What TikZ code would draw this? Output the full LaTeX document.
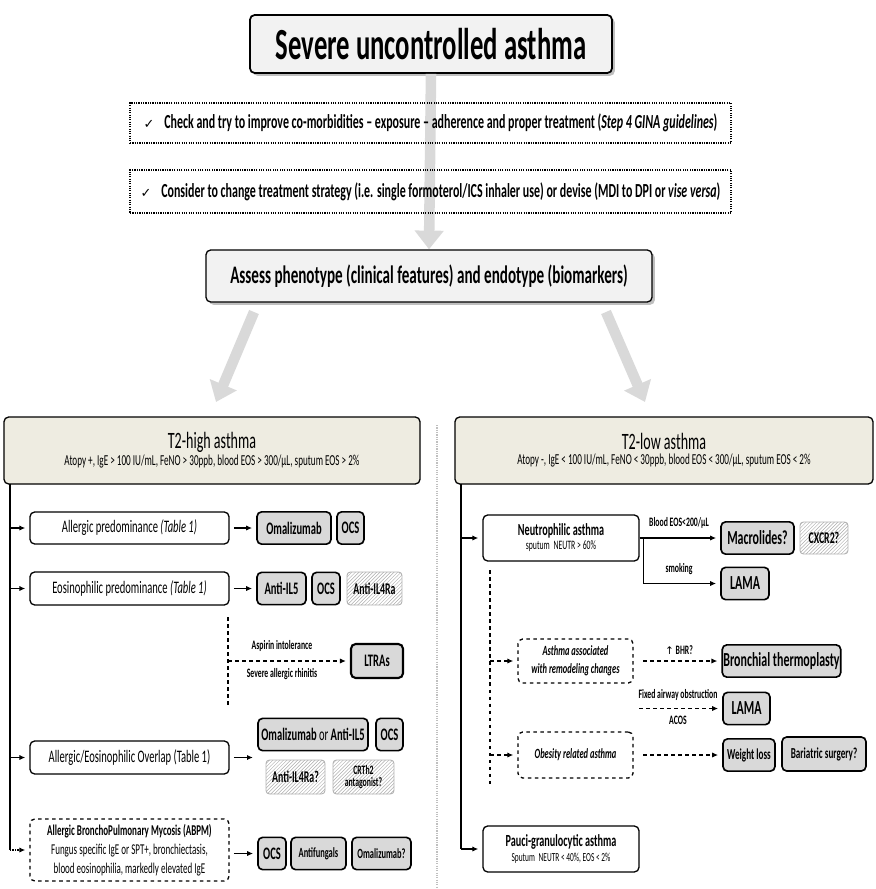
\documentclass[tikz,border=0pt]{standalone}
\usepackage{fontspec}
\setmainfont{Carlito}[FakeStretch=0.6]
\newfontfamily\symfont{DejaVu Sans}
\usetikzlibrary{arrows.meta, patterns, shadows}
\definecolor{beige}{HTML}{EEECE1}
\definecolor{drugfill}{HTML}{D9D9D9}
\definecolor{titlefill}{HTML}{F2F2F2}

\begin{document}
\begin{tikzpicture}[x=0.03cm, y=-0.03cm,
  box/.style={draw, line width=1.1pt, rounded corners=4pt, fill=white, align=center, inner sep=1pt},
  pheno/.style={box, minimum width=5.97cm, font=\fontsize{15}{17}\selectfont},
  drug/.style={box, fill=drugfill, line width=1.4pt, minimum height=0.97cm, font=\bfseries\fontsize{15}{16}\selectfont},
  hatch/.style={draw=gray!60, line width=0.8pt, rounded corners=3pt, pattern=north east lines,
    pattern color=gray!65, align=center, inner sep=1pt, font=\bfseries\fontsize{14}{14}\selectfont},
  dbox/.style={box, dashed},
  chk/.style={draw, densely dotted, line width=1pt, minimum width=18.03cm, font=\bfseries\fontsize{17}{19}\selectfont},
  lbl/.style={inner sep=1pt, font=\bfseries\fontsize{11}{12}\selectfont},
  arr/.style={-{Latex[length=5pt,width=4.5pt]}, line width=1.1pt, shorten <=3.5pt, shorten >=3.5pt},
  darr/.style={arr, dashed},
  big/.style={line width=9pt, gray!30, -{Triangle[length=16pt,width=24pt]}},
]
  \useasboundingbox (0,0) rectangle (876,889);

  \node[box, fill=titlefill, line width=1.5pt, minimum width=10.86cm, minimum height=1.74cm, drop shadow,
    font=\bfseries\fontsize{38}{40}\selectfont] (title) at (431,44) {Severe uncontrolled asthma};
  \node[box, fill=titlefill, minimum width=13.38cm, minimum height=1.56cm, drop shadow,
    font=\bfseries\fontsize{21.5}{24}\selectfont] (assess) at (429,276)
    {Assess phenotype (clinical features) and endotype (biomarkers)};

  \draw[big] (title.south) -- (assess.north);
  \coordinate (la1) at (254,312);
  \coordinate (la2) at (216,402);
  \coordinate (ra1) at (606,312);
  \coordinate (ra2) at (645,402);
  \draw[big] (la1) -- (la2);
  \draw[big] (ra1) -- (ra2);

  \node[chk, minimum height=1.2cm] (chk1) at (430.5,123)
    {{\symfont\mdseries\fontsize{11}{12}\selectfont ✓}\enspace Check and try to improve co-morbidities -- exposure -- adherence and proper treatment (\textit{Step 4 GINA guidelines})};
  \node[chk, minimum height=1.29cm] (chk2) at (430.5,191.5)
    {{\symfont\mdseries\fontsize{11}{12}\selectfont ✓}\enspace Consider to change treatment strategy (i.e. single formoterol/ICS inhaler use) or devise (MDI to DPI or \textit{vise versa})};

  \node[box, fill=beige, minimum width=12.48cm, minimum height=2.01cm] (high) at (212,450.5)
    {{\fontsize{20}{22}\selectfont T2-high asthma}\\[1pt]
     {\fontsize{13}{14}\selectfont Atopy +, IgE > 100 IU/mL, FeNO > 30ppb, blood EOS > 300/µL, sputum EOS > 2\%}};
  \node[box, fill=beige, minimum width=12.54cm, minimum height=2.01cm] (low) at (664,450.5)
    {{\fontsize{20}{22}\selectfont T2-low asthma}\\[1pt]
     {\fontsize{13}{14}\selectfont Atopy -, IgE < 100 IU/mL, FeNO < 30ppb, blood EOS < 300/µL, sputum EOS < 2\%}};

  \draw[gray!50, densely dotted, line width=1pt] (437,425) -- (437,889);

  % T2-high
  \node[pheno, minimum height=0.96cm] (allp) at (129.5,528) {Allergic predominance \textit{(Table 1)}};
  \node[drug, minimum width=2.22cm] (oma1) at (294,528) {Omalizumab};
  \node[drug, minimum width=0.81cm] (ocs1) at (350.5,528) {OCS};

  \node[pheno, minimum height=0.99cm] (eosp) at (129.5,588.5) {Eosinophilic predominance \textit{(Table 1)}};
  \node[drug, minimum width=1.47cm] (il5a) at (281.5,588.5) {Anti-IL5};
  \node[drug, minimum width=0.84cm] (ocs2) at (326,588.5) {OCS};
  \node[hatch, minimum width=1.65cm, minimum height=0.99cm] (il4a) at (374.5,588.5) {Anti-IL4Ra};

  \node[drug, minimum width=1.56cm, minimum height=1.02cm, line width=1.8pt] (ltra) at (377,661) {LTRAs};
  \node[lbl] (asp) at (282,646) {Aspirin intolerance};
  \node[lbl] (rhin) at (282,674) {Severe allergic rhinitis};

  \node[pheno, minimum height=0.99cm] (ovl) at (129.5,757.5) {Allergic/Eosinophilic Overlap (Table 1)};
  \node[drug, minimum width=3.3cm] (omil5) at (313,734.5) {Omalizumab {\mdseries or} Anti-IL5};
  \node[drug, minimum width=0.81cm] (ocs3) at (389.5,734.5) {OCS};
  \node[hatch, minimum width=1.77cm, minimum height=1.02cm] (il4b) at (295.5,777) {Anti-IL4Ra?};
  \node[hatch, minimum width=1.83cm, minimum height=1.02cm, font=\bfseries\fontsize{11}{10}\selectfont] (crth) at (363.5,777) {CRTh2\\antagonist?};
  \coordinate (ovlto) at (257,757.5);

  \node[dbox, minimum width=5.97cm, minimum height=1.86cm, font=\fontsize{12.8}{16}\selectfont] (abpm) at (129.5,850)
    {\textbf{Allergic BronchoPulmonary Mycosis (ABPM)}\\Fungus specific IgE or SPT+, bronchiectasis,\\blood eosinophilia, markedly elevated IgE};
  \node[drug, minimum width=0.84cm] (ocs4) at (272,853.5) {OCS};
  \node[drug, minimum width=1.65cm, font=\bfseries\fontsize{12}{13}\selectfont] (antif) at (318.5,853.5) {Antifungals};
  \node[drug, minimum width=1.77cm, font=\bfseries\fontsize{12}{13}\selectfont] (omaq) at (381.5,853.5) {Omalizumab?};

  \coordinate (ht) at (10,484);
  \coordinate (hb) at (10,850);
  \draw[line width=1.1pt] (ht) -- (hb);
  \draw[arr, shorten <=0pt] (allp.west -| ht) -- (allp.west);
  \draw[arr, shorten <=0pt] (eosp.west -| ht) -- (eosp.west);
  \draw[arr, shorten <=0pt] (ovl.west -| ht) -- (ovl.west);
  \draw[arr, shorten <=0pt, densely dotted] (hb) -- (abpm.west);
  \draw[arr] (allp) -- (oma1);
  \draw[arr] (eosp) -- (il5a);
  \draw[arr] (ovl) -- (ovlto);
  \draw[arr] (abpm.east |- ocs4) -- (ocs4);

  \coordinate (lt) at (228,617);
  \coordinate (lb) at (228,708);
  \draw[dashed, line width=1.1pt] (lt) -- (lb);
  \draw[darr, shorten <=0pt] (lt |- ltra) -- (ltra.west);

  % T2-low
  \node[box, minimum width=4.68cm, minimum height=1.38cm] (neu) at (561,538)
    {{\bfseries\fontsize{14.5}{17}\selectfont Neutrophilic asthma}\\{\fontsize{11}{12}\selectfont sputum\, NEUTR > 60\%}};
  \node[drug, minimum width=2.19cm, font=\bfseries\fontsize{17}{18}\selectfont] (mac) at (757.5,538) {Macrolides?};
  \node[hatch, minimum width=1.44cm, minimum height=0.96cm] (cxcr) at (824,538) {CXCR2?};
  \node[drug, minimum width=1.44cm, font=\bfseries\fontsize{17}{18}\selectfont] (lama1) at (745,583.5) {LAMA};
  \node[lbl] (eos200) at (679,523) {Blood EOS<200/µL};
  \node[lbl] (smok) at (679,569) {smoking};

  \node[dbox, minimum width=3.45cm, minimum height=1.32cm, font=\bfseries\itshape\fontsize{12}{15}\selectfont] (remo) at (575.5,661)
    {Asthma associated\\with remodeling changes};
  \node[drug, minimum width=3.51cm, font=\bfseries\fontsize{17}{18}\selectfont] (bt) at (781.5,661) {Bronchial thermoplasty};
  \node[lbl] (bhr) at (679,650) {{\symfont\mdseries\fontsize{9}{10}\selectfont ↑} BHR?};

  \node[drug, minimum width=1.41cm, font=\bfseries\fontsize{17}{18}\selectfont] (lama2) at (746.5,708.5) {LAMA};
  \node[lbl] (fao) at (678,695) {Fixed airway obstruction};
  \node[lbl] (acos) at (678,720) {ACOS};
  \coordinate (fx) at (639,708.5);

  \node[dbox, minimum width=3.45cm, minimum height=1.38cm, font=\bfseries\itshape\fontsize{12}{15}\selectfont] (obes) at (575.5,755)
    {Obesity related asthma};
  \node[drug, minimum width=1.56cm, font=\bfseries\fontsize{13}{14}\selectfont] (wl) at (749,755) {Weight loss};
  \node[drug, minimum width=2.52cm, minimum height=1.02cm, font=\bfseries\fontsize{13}{14}\selectfont] (bari) at (824,754) {Bariatric surgery?};

  \node[box, minimum width=4.68cm, minimum height=1.38cm] (pauci) at (561,849)
    {{\bfseries\fontsize{14.5}{17}\selectfont Pauci-granulocytic asthma}\\{\fontsize{10.5}{12}\selectfont Sputum\, NEUTR < 40\%, EOS < 2\%}};

  \coordinate (lowt) at (461,484);
  \coordinate (nt) at (490,570);
  \coordinate (nb) at (490,787);
  \draw[line width=1.1pt] (lowt) -- (lowt |- pauci);
  \draw[arr, shorten <=0pt] (neu.west -| lowt) -- (neu.west);
  \draw[arr, shorten <=0pt] (pauci.west -| lowt) -- (pauci.west);
  \draw[arr, shorten <=0pt] (neu.east) -- (mac.west);
  \draw[arr, shorten <=0pt] (neu.east) -- ++(4,0) |- (lama1.west);
  \draw[dashed, line width=1.1pt] (nt) -- (nb);
  \draw[darr, shorten <=0pt] (nt |- remo) -- (remo.west);
  \draw[darr, shorten <=0pt] (nt |- obes) -- (obes.west);
  \draw[darr, shorten <=8pt] (remo) -- (bt);
  \draw[darr, shorten <=0pt] (fx) -- (lama2.west);
  \draw[darr, shorten <=8pt] (obes) -- (wl);
\end{tikzpicture}
\end{document}
